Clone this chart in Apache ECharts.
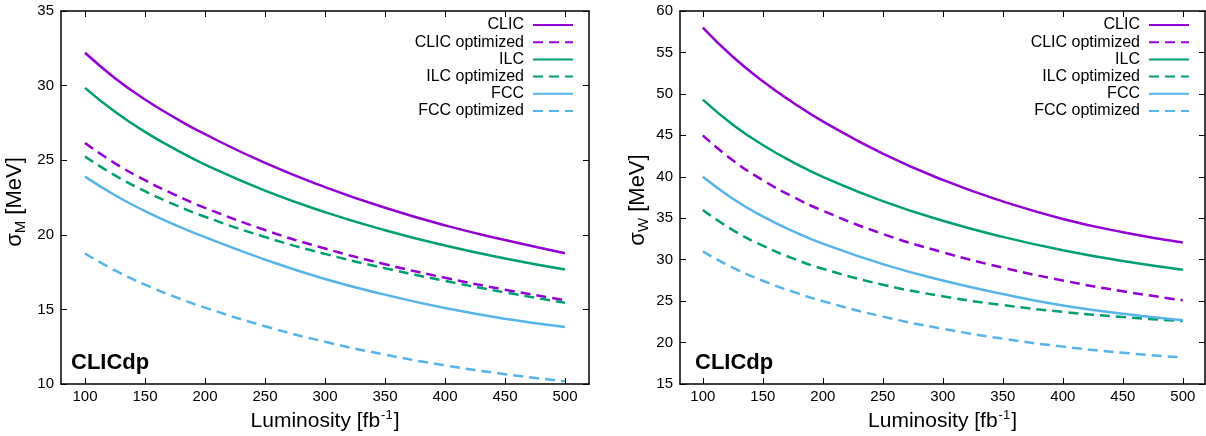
<!DOCTYPE html>
<html><head><meta charset="utf-8">
<script src="https://cdn.jsdelivr.net/npm/echarts@6/dist/echarts.min.js"></script>
<style>html,body{margin:0;padding:0;background:#fff}#c{width:1206px;height:436px}</style>
</head><body><div id="c"></div>
<script>
const luminosity = [100,125,150,175,200,250,300,350,400,450,500];
const xTicks = [100,150,200,250,300,350,400,450,500];
const seriesNames = ['CLIC','CLIC optimized','ILC','ILC optimized','FCC','FCC optimized'];
// Left panel: sigma_M [MeV]
const massCLIC    = [32.2, 30.5, 29.07, 27.84, 26.74, 24.82, 23.2, 21.81, 20.63, 19.65, 18.77];
const massCLICopt = [26.15, 24.79, 23.66, 22.68, 21.81, 20.32, 19.08, 18.03, 17.12, 16.32, 15.62];
const massILC     = [29.85, 28.24, 26.9, 25.74, 24.71, 22.96, 21.52, 20.31, 19.28, 18.41, 17.67];
const massILCopt  = [25.25, 23.98, 22.92, 22.01, 21.21, 19.85, 18.72, 17.76, 16.91, 16.14, 15.44];
const massFCC     = [23.9, 22.65, 21.59, 20.67, 19.84, 18.34, 17.04, 15.99, 15.09, 14.37, 13.82];
const massFCCopt  = [18.75, 17.61, 16.66, 15.84, 15.12, 13.87, 12.83, 11.97, 11.25, 10.66, 10.18];
// Right panel: sigma_W [MeV]
const widthCLIC    = [58.0, 54.48, 51.53, 48.97, 46.69, 42.79, 39.62, 37.03, 34.91, 33.31, 32.06];
const widthCLICopt = [45.0, 41.99, 39.59, 37.6, 35.9, 33.11, 30.89, 29.04, 27.49, 26.19, 25.1];
const widthILC     = [49.3, 46.29, 43.84, 41.78, 40.0, 37.06, 34.69, 32.75, 31.14, 29.84, 28.79];
const widthILCopt  = [36.0, 33.57, 31.68, 30.16, 28.9, 26.98, 25.58, 24.52, 23.7, 23.07, 22.59];
const widthFCC     = [40.0, 37.35, 35.22, 33.45, 31.94, 29.46, 27.48, 25.85, 24.48, 23.48, 22.7];
const widthFCCopt  = [31.0, 29.04, 27.46, 26.14, 25.0, 23.13, 21.66, 20.47, 19.51, 18.77, 18.2];

const colors = ['#9400D3','#9400D3','#009E73','#009E73','#56B4E9','#56B4E9'];
const dashed = [false,true,false,true,false,true];
const FONT = '"Liberation Sans", Arial, Helvetica, sans-serif';

const chart = echarts.init(document.getElementById('c'), null, {renderer:'canvas'});

function xAx(grid, min, max, show, pos){
  return {
    type:'value', gridIndex:grid, min:min, max:max, position:pos,
    axisLine:{show:true, onZero:false, lineStyle:{color:'#000', width:1.5}},
    axisTick:{show:true, inside:true, length:6, customValues:xTicks, lineStyle:{color:'#000', width:1}},
    axisLabel:{show:show, customValues:xTicks, color:'#000', fontSize:15, fontFamily:FONT, margin:5},
    splitLine:{show:false},
    name: show ? '{a|Luminosity [fb}{s|-1}{a|]}' : '',
    nameLocation:'middle', nameGap:24,
    nameTextStyle:{rich:{
      a:{fontSize:21, fontFamily:FONT, color:'#000', lineHeight:24},
      s:{fontSize:13, fontFamily:FONT, color:'#000', verticalAlign:'top', lineHeight:24, padding:[0,1,12,1]}
    }}
  };
}
function yAx(grid, min, max, show, pos){
  return {
    type:'value', gridIndex:grid, min:min, max:max, interval:5, position:pos,
    axisLine:{show:true, onZero:false, lineStyle:{color:'#000', width:1.5}},
    axisTick:{show:true, inside:true, length:6, lineStyle:{color:'#000', width:1}},
    axisLabel:{show:show, color:'#000', fontSize:15, fontFamily:FONT, margin:7},
    splitLine:{show:false}
  };
}

const leftData = [massCLIC, massCLICopt, massILC, massILCopt, massFCC, massFCCopt];
const rightData = [widthCLIC, widthCLICopt, widthILC, widthILCopt, widthFCC, widthFCCopt];

const series = [];
[leftData, rightData].forEach((set, g) => {
  set.forEach((vals, i) => {
    series.push({
      type:'line', name:seriesNames[i], xAxisIndex:g*2, yAxisIndex:g*2,
      data: luminosity.map((x,k)=>[x, vals[k]]),
      smooth:0.5, showSymbol:false, symbol:'none', animation:false,
      lineStyle:{color:colors[i], width:2.5, type: dashed[i] ? [10,6] : 'solid'},
      itemStyle:{color:colors[i]}
    });
  });
});

function legend(right){
  return {
    orient:'vertical', right:right, top:16.5, align:'right', padding:0,
    itemWidth:40, itemHeight:10, itemGap:0.2, data:seriesNames, selectedMode:false,
    itemStyle:{opacity:0},
    textStyle:{fontSize:16, fontFamily:FONT, color:'#000', lineHeight:17, padding:[0,4,0,0]}
  };
}

const yRich = {
  a:{fontSize:22, fontFamily:FONT, fill:'#000', lineHeight:26},
  b:{fontSize:15, fontFamily:FONT, fill:'#000', verticalAlign:'bottom', lineHeight:26, padding:[8,0,0,0]}
};
function yTitle(x, y, sub){
  return {type:'text', x:x, y:y, rotation:Math.PI/2,
    style:{text:'{a|σ}{b|' + sub + '}{a| [MeV]}', rich:yRich, align:'center', verticalAlign:'middle',
      font:'22px ' + FONT, fill:'#000'}};
}

chart.setOption({
  animation:false,
  backgroundColor:'#fff',
  grid:[
    {left:61, top:11, width:528, height:373, outerBoundsMode:'none', containLabel:false},
    {left:680, top:11, width:525, height:373, outerBoundsMode:'none', containLabel:false}
  ],
  xAxis:[
    xAx(0, 80, 520, true, 'bottom'), xAx(0, 80, 520, false, 'top'),
    xAx(1, 81, 518.5, true, 'bottom'), xAx(1, 81, 518.5, false, 'top')
  ],
  yAxis:[
    yAx(0, 10, 35, true, 'left'), yAx(0, 10, 35, false, 'right'),
    yAx(1, 15, 60, true, 'left'), yAx(1, 15, 60, false, 'right')
  ],
  legend:[legend(632), legend(16)],
  graphic:[
    yTitle(15, 202, 'M'),
    yTitle(638, 200, 'W'),
    {type:'text', left:71, top:352, style:{text:'CLICdp', font:'bold 22px ' + FONT, fill:'#000'}},
    {type:'text', left:695, top:352, style:{text:'CLICdp', font:'bold 22px ' + FONT, fill:'#000'}}
  ],
  series:series
});
</script></body></html>
